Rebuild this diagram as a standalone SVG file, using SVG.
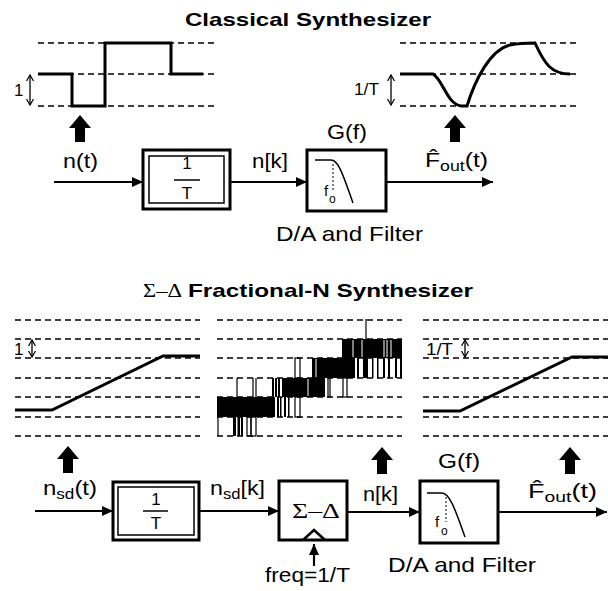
<svg xmlns="http://www.w3.org/2000/svg" width="608" height="591" viewBox="0 0 608 591">
<defs>
<style>
text{font-family:"Liberation Sans",Arial,sans-serif;fill:#000}
.t{font-size:21px}
.ti{font-size:19px;font-weight:bold}
.sg{font-family:"Liberation Serif","Times New Roman",serif}
.dash{stroke:#000;stroke-width:1.3;stroke-dasharray:6 4;fill:none}
.wave{stroke:#000;stroke-width:3;fill:none}
.box{stroke:#000;stroke-width:3;fill:#fff}
.thin{stroke:#000;stroke-width:1.5;fill:none}
.con{stroke:#000;stroke-width:2.2;fill:none;marker-end:url(#ah)}
.dbl{stroke:#000;stroke-width:1.3;fill:none;marker-start:url(#sa);marker-end:url(#sa)}
.fat{fill:#000}
.nz{fill:#000}
.nl{stroke:#000;stroke-width:1.2;fill:none}
</style>
<marker id="ah" markerUnits="userSpaceOnUse" markerWidth="12" markerHeight="10" refX="11" refY="5" orient="auto"><path d="M0,0 L11,5 L0,10 z" fill="#000"/></marker>
<marker id="sa" markerUnits="userSpaceOnUse" markerWidth="8" markerHeight="8" refX="6" refY="4" orient="auto-start-reverse"><path d="M0,0.5 L6,4 L0,7.5" fill="none" stroke="#000" stroke-width="1.2"/></marker>
<path id="fatup" d="M0,0 L11,13 L5,13 L5,27 L-5,27 L-5,13 L-11,13 z"/>
</defs>

<!-- Titles -->
<g id="title1"><text class="ti" x="185" y="26" textLength="246" lengthAdjust="spacingAndGlyphs">Classical Synthesizer</text></g>
<g id="title2">
<text class="sg" x="143" y="297" font-size="19" textLength="39" lengthAdjust="spacingAndGlyphs">Σ–Δ</text>
<text class="ti" x="188" y="297" textLength="285" lengthAdjust="spacingAndGlyphs">Fractional-N Synthesizer</text>
</g>

<!-- Top waveforms -->
<g id="wave-top-left">
<line class="dash" x1="38" y1="43" x2="218" y2="43"/>
<line class="dash" x1="38" y1="74" x2="218" y2="74"/>
<line class="dash" x1="38" y1="106" x2="218" y2="106"/>
<path class="wave" d="M38,74 H72 V106 H105 V43 H171 V74 H203"/>
<line class="dbl" x1="30" y1="75" x2="30" y2="105"/>
<text x="14" y="96" font-size="17">1</text>
<use href="#fatup" x="80" y="115" class="fat"/>
</g>
<g id="wave-top-right">
<line class="dash" x1="400" y1="43" x2="580" y2="43"/>
<line class="dash" x1="400" y1="74" x2="580" y2="74"/>
<line class="dash" x1="400" y1="106" x2="580" y2="106"/>
<path class="wave" d="M400,74 H433 C443,80 447,104 461,106 H467 C475,80 490,50 510,45 C520,43 525,43 535,43 C545,65 552,74 570,74"/>
<line class="dbl" x1="391" y1="75" x2="391" y2="105"/>
<text x="354" y="95" font-size="17" textLength="25" lengthAdjust="spacingAndGlyphs">1/T</text>
<use href="#fatup" x="455" y="115" class="fat"/>
</g>

<!-- Top chain -->
<g id="top-input-label"><text class="t" x="63" y="168" textLength="35" lengthAdjust="spacingAndGlyphs">n(t)</text></g>
<g id="top-scale">
<rect class="box" x="143" y="150" width="87" height="59"/>
<rect class="thin" x="149" y="156" width="75" height="47"/>
<text x="187" y="169" font-size="17" text-anchor="middle">1</text>
<line x1="174" y1="180" x2="200" y2="180" stroke="#000" stroke-width="1.5"/>
<text x="187" y="199" font-size="17" text-anchor="middle">T</text>
</g>
<g id="top-nk"><text class="t" x="252" y="168" textLength="36" lengthAdjust="spacingAndGlyphs">n[k]</text></g>
<g id="top-filter">
<text class="t" x="327" y="139" textLength="40" lengthAdjust="spacingAndGlyphs">G(f)</text>
<rect class="box" x="307" y="150" width="79" height="61"/>
<path class="thin" d="M315,160 H331 C339,160 344,178 353,203" stroke-width="2"/>
<line x1="333" y1="164" x2="333" y2="192" stroke="#000" stroke-width="1" stroke-dasharray="2 2"/>
<text x="324" y="196" font-size="15">f</text>
<text x="329" y="203" font-size="12">o</text>
<text class="t" x="276" y="241" textLength="147" lengthAdjust="spacingAndGlyphs">D/A and Filter</text>
</g>
<g id="top-output-label">
<text class="t" x="425" y="167" textLength="63" lengthAdjust="spacingAndGlyphs">F̂<tspan font-size="15" dy="4">out</tspan><tspan dy="-4">(t)</tspan></text>
</g>

<!-- Bottom waveforms -->
<g id="wave-bot-left">
<g class="dash">
<line x1="15" y1="320" x2="200" y2="320"/><line x1="15" y1="339" x2="200" y2="339"/><line x1="15" y1="358" x2="200" y2="358"/><line x1="15" y1="378" x2="200" y2="378"/><line x1="15" y1="397" x2="200" y2="397"/><line x1="15" y1="417" x2="200" y2="417"/><line x1="15" y1="436" x2="200" y2="436"/>
</g>
<path class="wave" d="M15,410 H52 L163,356 H200"/>
<line class="dbl" x1="32" y1="340" x2="32" y2="357"/>
<text x="14" y="355" font-size="17">1</text>
</g>
<g id="wave-bot-mid">
<g class="dash">
<line x1="217" y1="320" x2="402" y2="320"/><line x1="217" y1="339" x2="402" y2="339"/><line x1="217" y1="358" x2="402" y2="358"/><line x1="217" y1="378" x2="402" y2="378"/><line x1="217" y1="397" x2="402" y2="397"/><line x1="217" y1="417" x2="402" y2="417"/><line x1="217" y1="436" x2="402" y2="436"/>
</g>
<g class="nz">
<rect x="217" y="397" width="58" height="20"/>
<rect x="233" y="417" width="3" height="19"/><rect x="237.5" y="417" width="2.5" height="19"/><rect x="241" y="417" width="2" height="19"/>
<rect x="272" y="378" width="2" height="19"/><rect x="275" y="378" width="2" height="19"/><rect x="278" y="378" width="2" height="19"/>
<rect x="282" y="378" width="43" height="19"/>
<rect x="277" y="397" width="2" height="20"/><rect x="280" y="397" width="1.5" height="20"/><rect x="284" y="397" width="2" height="20"/><rect x="288" y="397" width="1.5" height="20"/>
<rect x="312" y="358" width="43" height="20"/>
<rect x="342" y="339" width="60" height="19"/>
<rect x="357" y="358" width="2" height="20"/><rect x="363" y="358" width="5" height="20"/><rect x="372" y="358" width="1.5" height="20"/><rect x="377" y="358" width="1.5" height="20"/><rect x="383" y="358" width="2" height="20"/><rect x="388" y="358" width="2" height="20"/><rect x="395" y="358" width="2" height="20"/><rect x="400" y="358" width="2" height="20"/>
</g>
<g stroke="#fff" stroke-width="1">
<line x1="316" y1="359" x2="316" y2="377"/><line x1="308" y1="379" x2="308" y2="396"/>
<line x1="353" y1="340" x2="353" y2="357"/><line x1="362" y1="340" x2="362" y2="357"/><line x1="384" y1="340" x2="384" y2="357"/><line x1="387" y1="340" x2="387" y2="357"/><line x1="391" y1="340" x2="391" y2="357"/>
</g>
<g class="nl">
<line x1="218" y1="417" x2="218" y2="436"/>
<rect x="247" y="417" width="4" height="19"/><rect x="251" y="417" width="5" height="19"/>
<line x1="237" y1="378" x2="237" y2="397"/><line x1="253" y1="378" x2="253" y2="397"/><line x1="256" y1="378" x2="256" y2="397"/>
<rect x="295" y="397" width="5" height="20"/>
<rect x="295" y="358" width="5" height="20"/>
<rect x="328" y="378" width="2" height="19"/><rect x="343" y="378" width="4" height="19"/>
<line x1="366" y1="319" x2="366" y2="339"/>
</g>
</g>
<g id="wave-bot-right">
<g class="dash">
<line x1="423" y1="320" x2="608" y2="320"/><line x1="423" y1="339" x2="608" y2="339"/><line x1="423" y1="358" x2="608" y2="358"/><line x1="423" y1="378" x2="608" y2="378"/><line x1="423" y1="397" x2="608" y2="397"/><line x1="423" y1="417" x2="608" y2="417"/><line x1="423" y1="436" x2="608" y2="436"/>
</g>
<path class="wave" d="M423,411 H460 L572,357 H608"/>
<line class="dbl" x1="465" y1="340" x2="465" y2="357"/>
<text x="426" y="355" font-size="17" textLength="27" lengthAdjust="spacingAndGlyphs">1/T</text>
</g>

<!-- Bottom chain -->
<g id="bot-input-label">
<use href="#fatup" x="68" y="446" class="fat"/>
<text class="t" x="43" y="495" textLength="54" lengthAdjust="spacingAndGlyphs">n<tspan font-size="15" dy="4">sd</tspan><tspan dy="-4">(t)</tspan></text>
</g>
<g id="bot-scale">
<rect class="box" x="113" y="482" width="86" height="58"/>
<rect class="thin" x="118" y="487" width="76" height="48"/>
<text x="156" y="505" font-size="17" text-anchor="middle">1</text>
<line x1="143" y1="511" x2="168" y2="511" stroke="#000" stroke-width="1.5"/>
<text x="156" y="529" font-size="17" text-anchor="middle">T</text>
</g>
<g id="bot-nsdk"><text class="t" x="210" y="495" textLength="55" lengthAdjust="spacingAndGlyphs">n<tspan font-size="15" dy="4">sd</tspan><tspan dy="-4">[k]</tspan></text></g>
<g id="sigma-delta">
<rect class="box" x="279" y="481" width="68" height="59"/>
<text class="sg" x="292" y="518" font-size="21" textLength="48" lengthAdjust="spacingAndGlyphs">Σ–Δ</text>
<polyline points="303,540 314,530 325,540" fill="none" stroke="#000" stroke-width="2.5"/>
<text class="t" x="265" y="582" textLength="85" lengthAdjust="spacingAndGlyphs">freq=1/T</text>
</g>
<g id="bot-nk">
<use href="#fatup" x="382" y="447" class="fat"/>
<text class="t" x="363" y="501" textLength="35" lengthAdjust="spacingAndGlyphs">n[k]</text>
</g>
<g id="bot-filter">
<text class="t" x="438" y="468" textLength="42" lengthAdjust="spacingAndGlyphs">G(f)</text>
<rect class="box" x="420" y="481" width="78" height="62"/>
<path class="thin" d="M427,493 H442 C450,493 456,512 465,537" stroke-width="2"/>
<line x1="446" y1="497" x2="446" y2="522" stroke="#000" stroke-width="1" stroke-dasharray="2 2"/>
<text x="435" y="527" font-size="15">f</text>
<text x="441" y="535" font-size="12">o</text>
<text class="t" x="388" y="572" textLength="148" lengthAdjust="spacingAndGlyphs">D/A and Filter</text>
</g>
<g id="bot-output-label">
<use href="#fatup" x="570" y="447" class="fat"/>
<text class="t" x="528" y="498" textLength="69" lengthAdjust="spacingAndGlyphs">F̂<tspan font-size="15" dy="4">out</tspan><tspan dy="-4">(t)</tspan></text>
</g>

<!-- Connectors -->
<g id="connectors">
<line class="con" x1="54" y1="182" x2="143" y2="182"/>
<line class="con" x1="230" y1="182" x2="307" y2="182"/>
<line class="con" x1="386" y1="182" x2="493" y2="182"/>
<line class="con" x1="35" y1="511" x2="113" y2="511"/>
<line class="con" x1="199" y1="511" x2="279" y2="511"/>
<line class="con" x1="347" y1="512" x2="420" y2="512"/>
<line class="con" x1="498" y1="512" x2="607" y2="512"/>
<line class="con" x1="314" y1="566" x2="314" y2="544"/>
</g>
</svg>
